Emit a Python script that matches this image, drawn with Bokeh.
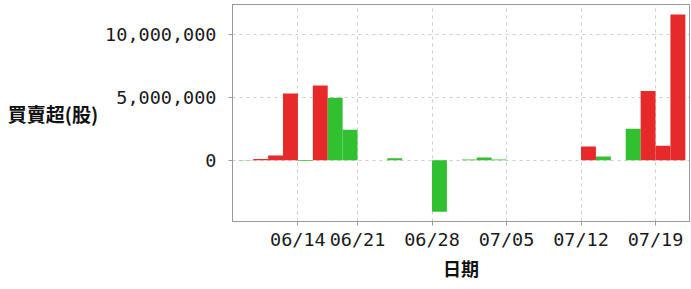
from bokeh.plotting import figure
from bokeh.models import ColumnDataSource, FixedTicker, NumeralTickFormatter, Label, Range1d
from bokeh.embed import file_html
from bokeh.resources import INLINE

# trading days (2021) and net buy/sell (shares)
dates = ["06/08", "06/09", "06/10", "06/11", "06/15", "06/16", "06/17", "06/18",
         "06/21", "06/22", "06/23", "06/24", "06/25",
         "06/28", "06/29", "06/30", "07/01", "07/02",
         "07/05", "07/06", "07/07", "07/08", "07/09",
         "07/12", "07/13", "07/14", "07/15", "07/16",
         "07/19", "07/20"]
values = [-30000, 100000, 380000, 5300000, -60000, 5940000, 4960000, 2430000,
          0, 0, 150000, 0, 0,
          -4100000, 0, 50000, 220000, 50000,
          0, 0, 0, 0, 0,
          1080000, 300000, 0, 2500000, 5500000,
          1150000, 11600000]
updown = ["g", "r", "r", "r", "g", "r", "g", "g",
          "g", "g", "g", "g", "g",
          "g", "g", "g", "g", "g",
          "g", "g", "g", "g", "g",
          "r", "g", "g", "g", "r",
          "r", "r"]
tick_dates = ["06/14", "06/21", "06/28", "07/05", "07/12", "07/19"]
y_ticks = [0, 5000000, 10000000]

RED = "#e62a2a"
GREEN = "#30c030"

idx = list(range(len(dates)))
colors = [RED if c == "r" else GREEN for c in updown]
src = ColumnDataSource(dict(x=idx, top=values, color=colors, date=dates))

# tick positions: boundary before first trading day on/after the tick date
tick_pos = []
for t in tick_dates:
    i = next(k for k, d in enumerate(dates) if d >= t)
    tick_pos.append(i - 0.5)

p = figure(frame_width=457, frame_height=217, output_backend="svg", toolbar_location=None,
           x_range=Range1d(-0.89, 29.78), y_range=Range1d(-4880000, 12390000),
           min_border_left=232, min_border_right=1, min_border_top=4, min_border_bottom=0)

p.vbar(x="x", top="top", bottom=0, width=1.0, fill_color="color",
       line_color=None, source=src)

p.background_fill_color = "white"
p.outline_line_color = "#999999"
p.outline_line_width = 1

grid_color = "#cccccc"
p.xgrid.ticker = FixedTicker(ticks=tick_pos)
p.xgrid.grid_line_color = grid_color
p.xgrid.grid_line_dash = "3 4"
p.ygrid.grid_line_color = grid_color
p.ygrid.grid_line_dash = "3 4"

p.xaxis.ticker = FixedTicker(ticks=tick_pos)
p.xaxis.major_label_overrides = {pos: lab for pos, lab in zip(tick_pos, tick_dates)}
p.yaxis.ticker = FixedTicker(ticks=y_ticks)
p.yaxis.formatter = NumeralTickFormatter(format="0,0")

for ax in (p.xaxis[0], p.yaxis[0]):
    ax.axis_line_color = "#999999"
    ax.major_tick_line_color = "#999999"
    ax.major_tick_out = 4
    ax.major_tick_in = 0
    ax.minor_tick_line_color = None
    ax.major_label_text_font = "DejaVu Sans Mono"
    ax.major_label_text_font_size = "18.5px"
    ax.major_label_text_color = "#1a1a1a"

p.yaxis.major_label_standoff = 12
p.xaxis.major_label_standoff = 3

p.xaxis.axis_label = "日期"
p.xaxis.axis_label_text_font = "Noto Sans CJK TC"
p.xaxis.axis_label_text_font_style = "bold"
p.xaxis.axis_label_text_font_size = "18px"
p.xaxis.axis_label_text_color = "#111111"
p.xaxis.axis_label_standoff = 2

ya = p.yaxis[0]
if "axis_label_orientation" in ya.properties():
    ya.axis_label = "買賣超(股)"
    ya.axis_label_orientation = "horizontal"
    ya.axis_label_text_font = "Noto Sans CJK TC"
    ya.axis_label_text_font_style = "bold"
    ya.axis_label_text_font_size = "19px"
    ya.axis_label_text_color = "#111111"
    ya.axis_label_standoff = 4
else:
    ylab = Label(x=0, y=160, x_units="screen", y_units="screen", text="買賣超(股)",
                 text_font="Noto Sans CJK TC", text_font_style="bold",
                 text_font_size="19px", text_color="#111111",
                 text_align="left", text_baseline="middle")
    p.add_layout(ylab)

open("out.html", "w").write(file_html(p, INLINE))
